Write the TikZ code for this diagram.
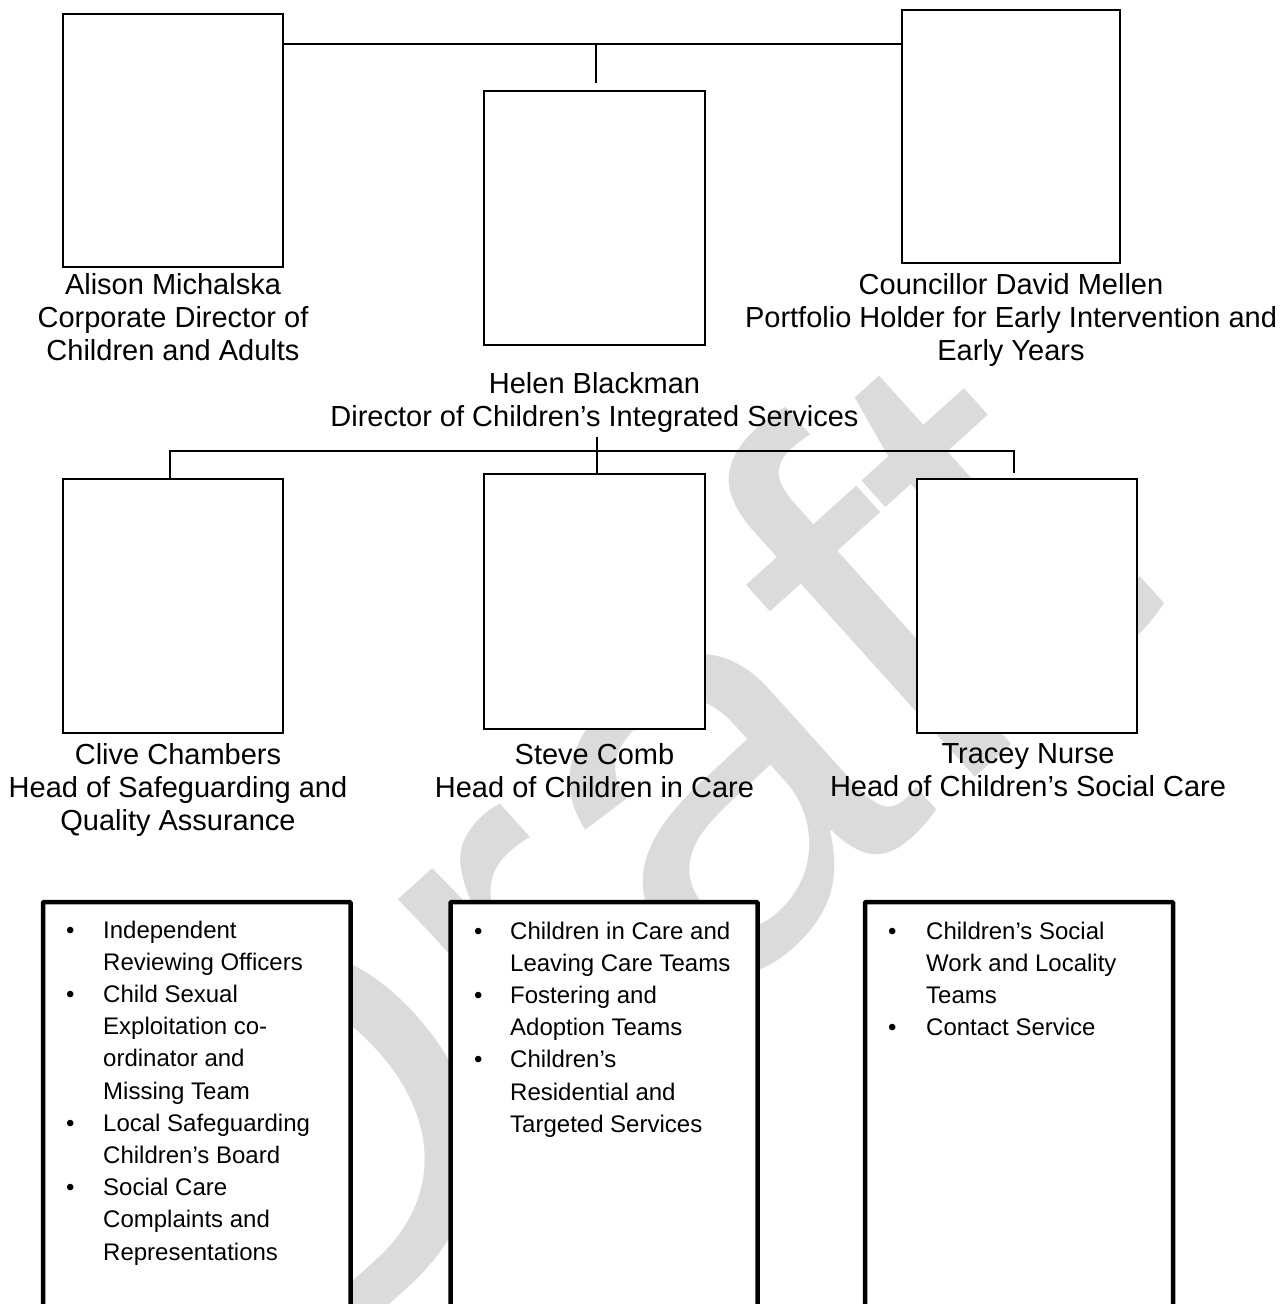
\documentclass[tikz,border=0pt]{standalone}
\usepackage{fontspec}
\setmainfont{Liberation Sans}
\usetikzlibrary{positioning}

\begin{document}
\begin{tikzpicture}[x=1pt,y=-1pt,
  post/.style={draw,fill=white,line width=1.8pt,inner sep=0pt},
  teambox/.style={draw,fill=white,line width=4.5pt,inner sep=0pt,rounded corners=1pt},
  postname/.style={align=center,inner sep=0pt,anchor=north,font=\fontsize{29}{33}\selectfont},
  teams/.style={inner sep=0pt,anchor=base west,font=\fontsize{24}{32.2}\selectfont},
  link/.style={line width=1.8pt}]
\clip (0,0) rectangle (1287,1304);
\node[text=black!14,rotate=42,font=\fontsize{560}{560}\selectfont] (watermark) at (585,860) {Draft};

\node[post,minimum width=220pt,minimum height=253pt] (alison) at (173,140.5) {};
\node[post,minimum width=221pt,minimum height=254pt] (helen) at (594.5,218) {};
\node[post,minimum width=218pt,minimum height=253pt] (david) at (1011,136.5) {};
\node[postname] (alisonname) at (173,273) {Alison Michalska\\Corporate Director of\\Children and Adults};
\node[postname] (helenname) at (594.5,372) {Helen Blackman\\Director of Children’s Integrated Services};
\node[postname] (davidname) at (1011,273) {Councillor David Mellen\\Portfolio Holder for Early Intervention and\\Early Years};

\node[post,minimum width=220pt,minimum height=254pt] (clive) at (173,606) {};
\node[post,minimum width=221pt,minimum height=255pt] (steve) at (594.5,601.5) {};
\node[post,minimum width=220pt,minimum height=254pt] (tracey) at (1027,606) {};
\node[postname] (clivename) at (178,743) {Clive Chambers\\Head of Safeguarding and\\Quality Assurance};
\node[postname] (stevename) at (594.5,743) {Steve Comb\\Head of Children in Care};
\node[postname] (traceyname) at (1028,743) {Tracey Nurse\\Head of Children’s Social Care};

\node[teambox,minimum width=307.5pt,minimum height=498pt] (clivebox) at (196.75,1151) {};
\node[teambox,minimum width=307pt,minimum height=498pt] (stevebox) at (604,1151) {};
\node[teambox,minimum width=308pt,minimum height=498pt] (traceybox) at (1019,1151) {};

\node[teams] (cliveteams) at (65.8,938) {\begin{tabular}[t]{@{}p{37.2pt}@{}l@{}}
\textbullet & Independent\\
 & Reviewing Officers\\
\textbullet & Child Sexual\\
 & Exploitation co-\\
 & ordinator and\\
 & Missing Team\\
\textbullet & Local Safeguarding\\
 & Children’s Board\\
\textbullet & Social Care\\
 & Complaints and\\
 & Representations
\end{tabular}};
\node[teams] (steveteams) at (473.8,939) {\begin{tabular}[t]{@{}p{36.2pt}@{}l@{}}
\textbullet & Children in Care and\\
 & Leaving Care Teams\\
\textbullet & Fostering and\\
 & Adoption Teams\\
\textbullet & Children’s\\
 & Residential and\\
 & Targeted Services
\end{tabular}};
\node[teams] (traceyteams) at (887.8,939) {\begin{tabular}[t]{@{}p{38.2pt}@{}l@{}}
\textbullet & Children’s Social\\
 & Work and Locality\\
 & Teams\\
\textbullet & Contact Service
\end{tabular}};

\coordinate (topjoin) at (596,44);
\coordinate (midjoin) at (597,451);
\coordinate (leftdrop) at (170,451);
\coordinate (rightdrop) at (1014,451);
\draw[link] (alison.east |- topjoin) -- (david.west |- topjoin);
\draw[link,shorten >=7pt] (topjoin) -- (topjoin |- helen.north);
\draw[link] (midjoin |- 0,437) -- (midjoin |- steve.north);
\draw[link] (leftdrop |- clive.north) -- (leftdrop) -- (rightdrop) -- ([yshift=5pt]rightdrop |- tracey.north);
\end{tikzpicture}
\end{document}
